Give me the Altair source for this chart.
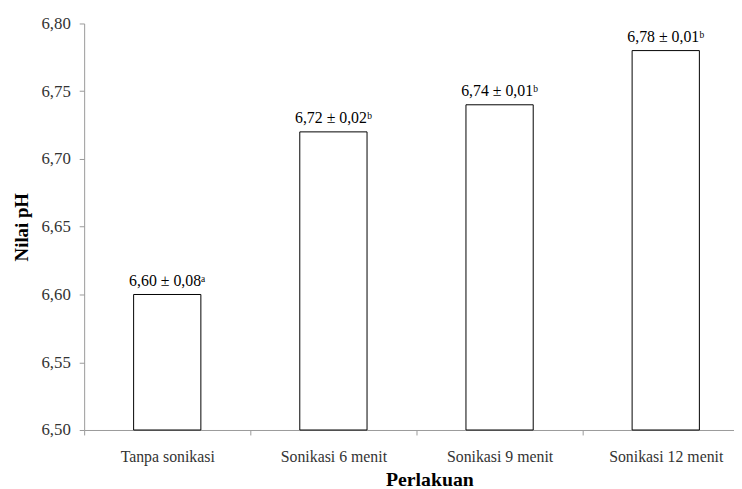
import altair as alt
import pandas as pd

categories = ["Tanpa sonikasi", "Sonikasi 6 menit", "Sonikasi 9 menit", "Sonikasi 12 menit"]
ph_values = [6.60, 6.72, 6.74, 6.78]
sd_values = [0.08, 0.02, 0.01, 0.01]
letters = ["ᵃ", "ᵇ", "ᵇ", "ᵇ"]

def fmt(v):
    return f"{v:.2f}".replace(".", ",")

df = pd.DataFrame({
    "Perlakuan": categories,
    "pH": ph_values,
    "label": [f"{fmt(v)} ± {fmt(s)}{l}" for v, s, l in zip(ph_values, sd_values, letters)],
})

serif = "Liberation Serif"

x = alt.X(
    "Perlakuan:N",
    sort=categories,
    scale=alt.Scale(range=[0, 672], paddingInner=0, paddingOuter=0),
    axis=alt.Axis(
        title="Perlakuan",
        labelAngle=0,
        tickBand="extent",
        tickSize=5,
        labelPadding=14,
        titlePadding=5,
        titleX=349,
        labelFontSize=16,
        titleFontSize=20,
    ),
)
y = alt.Y(
    "pH:Q",
    scale=alt.Scale(domain=[6.5, 6.8], zero=False, nice=False),
    axis=alt.Axis(
        title="Nilai pH",
        values=[6.50, 6.55, 6.60, 6.65, 6.70, 6.75, 6.80],
        labelExpr="replace(format(datum.value, '.2f'), '.', ',')",
        tickSize=5,
        labelPadding=9,
        titlePadding=10,
        labelFontSize=17,
        titleFontSize=19,
        grid=False,
    ),
)

bars = alt.Chart(df).mark_bar(
    width=68, fill="white", stroke="black", strokeWidth=1
).encode(x=x, y=y, y2=alt.datum(6.5))

text = alt.Chart(df).mark_text(
    baseline="alphabetic", dy=-9, fontSize=16, font=serif, color="black"
).encode(x=x, y=y, text="label:N")

chart = (bars + text).properties(
    width=657,
    height=411,
    autosize=alt.AutoSizeParams(type="none"),
    padding={"left": 77, "top": 13, "right": 0, "bottom": 57},
).configure_view(stroke=None).configure_axis(
    labelFont=serif,
    titleFont=serif,
    titleFontWeight="bold",
    labelColor="#333333",
    titleColor="black",
    domainColor="#9a9a9a",
    tickColor="#9a9a9a",
)

chart.save("out.html", embed_options={"renderer": "svg", "actions": False})
